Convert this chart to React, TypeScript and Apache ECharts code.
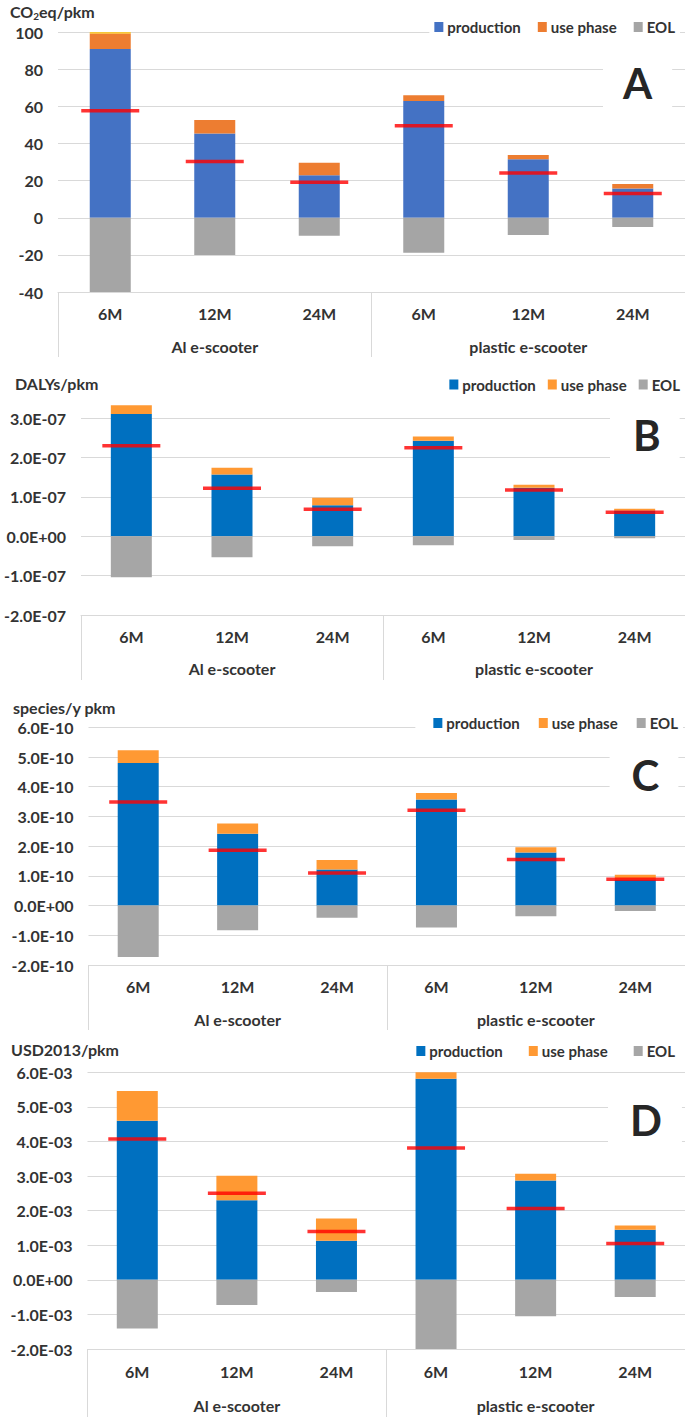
import React, { useEffect, useRef } from 'react';
import * as echarts from 'echarts';

// ---------- data ----------
const categories = ['6M', '12M', '24M', '6M', '12M', '24M'];
const groups = ['Al e-scooter', 'plastic e-scooter'];
const legendNames = ['production', 'use phase', 'EOL'];

// Panel A: kg CO2eq/pkm (g)
const prodA = [91, 45.5, 23, 62.9, 31.5, 15.8];
const useA = [8.4, 7.2, 6.7, 3.1, 2.3, 2.4];
const otherA = [0.6, null, null, null, null, null];
const eolA = [-40, -20.1, -9.7, -18.9, -9.3, -4.9];
const netA = [57.7, 30.4, 19.1, 49.6, 24.1, 13.1];

// Panel B: DALYs/pkm
const prodB = [3.11e-7, 1.57e-7, 0.79e-7, 2.43e-7, 1.235e-7, 0.65e-7];
const useB = [0.22e-7, 0.17e-7, 0.19e-7, 0.11e-7, 0.075e-7, 0.05e-7];
const eolB = [-1.04e-7, -0.53e-7, -0.25e-7, -0.23e-7, -0.094e-7, -0.05e-7];
const netB = [2.3e-7, 1.22e-7, 0.69e-7, 2.25e-7, 1.18e-7, 0.61e-7];

// Panel C: species/y pkm
const prodC = [4.8e-10, 2.42e-10, 1.21e-10, 3.57e-10, 1.79e-10, 0.88e-10];
const useC = [0.43e-10, 0.34e-10, 0.32e-10, 0.22e-10, 0.17e-10, 0.16e-10];
const eolC = [-1.73e-10, -0.83e-10, -0.41e-10, -0.74e-10, -0.36e-10, -0.18e-10];
const netC = [3.49e-10, 1.86e-10, 1.1e-10, 3.21e-10, 1.55e-10, 0.89e-10];

// Panel D: USD2013/pkm
const prodD = [4.6e-3, 2.3e-3, 1.13e-3, 5.81e-3, 2.87e-3, 1.45e-3];
const useD = [0.86e-3, 0.71e-3, 0.64e-3, 0.19e-3, 0.2e-3, 0.12e-3];
const eolD = [-1.41e-3, -0.73e-3, -0.35e-3, -2.0e-3, -1.05e-3, -0.5e-3];
const netD = [4.07e-3, 2.5e-3, 1.4e-3, 3.81e-3, 2.06e-3, 1.05e-3];

// ---------- helpers ----------
const fmtE = (v: number) => {
  const [m, e] = v.toExponential(1).split('e');
  const n = parseInt(e, 10);
  return `${m}E${n < 0 ? '-' : '+'}${String(Math.abs(n)).padStart(2, '0')}`;
};

const FONT = 'Lato';
const TXT = '#333333';
const GRIDC = '#d9d9d9';

const panels: any[] = [
  {
    key: 'A',
    prod: prodA, use: useA, eol: eolA, net: netA, other: otherA,
    min: -40, max: 100, interval: 20, fmt: (v: number) => String(v),
    colors: ['#4472C4', '#ED7D31', '#A5A5A5'],
    grid: { left: 58, top: 32.3, width: 627.5, height: 259.7 },
    unit: { text: '{a|CO}{b|2}{a|eq/pkm}', left: 10, top: 1 },
    legend: { top: 15.5, right: 5, itemGap: 17, padding: [4, 5, 4, 5] },
    letter: { left: 603, top: 56, padding: [6, 20, 6, 20] },
    labMargin: 13, grpMargin: 46, tickLen: 65,
  },
  {
    key: 'B',
    prod: prodB, use: useB, eol: eolB, net: netB,
    min: -2e-7, max: 3e-7, interval: 1e-7, fmt: fmtE,
    colors: ['#0070C0', '#FF9933', '#A6A6A6'],
    grid: { left: 81, top: 418.3, width: 609, height: 196.7 },
    unit: { text: '{a|DALYs/pkm}', left: 15, top: 373 },
    legend: { top: 373, right: 0, itemGap: 12, padding: [4, 5, 4, 5] },
    letter: { left: 610, top: 410, padding: [4, 19, 4, 23] },
    labMargin: 13, grpMargin: 45, tickLen: 65,
  },
  {
    key: 'C',
    prod: prodC, use: useC, eol: eolC, net: netC,
    min: -2e-10, max: 6e-10, interval: 1e-10, fmt: fmtE,
    colors: ['#0070C0', '#FF9933', '#A6A6A6'],
    grid: { left: 88.5, top: 727.3, width: 602, height: 237.7 },
    unit: { text: '{a|species/y pkm}', left: 13, top: 697 },
    legend: { top: 711.5, right: 2, itemGap: 19, padding: [4, 5, 4, 18] },
    letter: { left: 609.6, top: 750, padding: [4, 19, 4, 22] },
    labMargin: 13, grpMargin: 46, tickLen: 65,
  },
  {
    key: 'D',
    prod: prodD, use: useD, eol: eolD, net: netD,
    min: -2e-3, max: 6e-3, interval: 1e-3, fmt: fmtE,
    colors: ['#0070C0', '#FF9933', '#A6A6A6'],
    grid: { left: 87.5, top: 1072.3, width: 606, height: 276.7 },
    unit: { text: '{a|USD2013/pkm}', left: 11, top: 1039 },
    legend: { top: 1039.5, right: 5, itemGap: 26, padding: [4, 5, 4, 5] },
    letter: { left: 608, top: 1095, padding: [4, 20, 6, 22] },
    labMargin: 14, grpMargin: 48, tickLen: 68,
  },
];

function buildOption() {
  const grid: any[] = [];
  const xAxis: any[] = [];
  const yAxis: any[] = [];
  const series: any[] = [];
  const legend: any[] = [];
  const title: any[] = [];

  panels.forEach((p, i) => {
    grid.push({ ...p.grid, containLabel: false });
    xAxis.push({
      type: 'category',
      gridIndex: i,
      data: categories,
      position: 'bottom',
      axisLine: { onZero: false, lineStyle: { color: GRIDC, width: 1 } },
      axisTick: { show: false },
      axisLabel: { margin: p.labMargin, fontSize: 16, fontWeight: 'bold', color: TXT, fontFamily: FONT, interval: 0 },
    });
    xAxis.push({
      type: 'category',
      gridIndex: i,
      data: groups,
      position: 'bottom',
      axisLine: { show: false, onZero: false },
      axisTick: { show: true, interval: 0, length: p.tickLen, lineStyle: { color: GRIDC, width: 1 } },
      axisLabel: { margin: p.grpMargin, fontSize: 16, fontWeight: 'bold', color: TXT, fontFamily: FONT, interval: 0 },
    });
    yAxis.push({
      type: 'value',
      gridIndex: i,
      min: p.min,
      max: p.max,
      interval: p.interval,
      axisLine: { show: false },
      axisTick: { show: false },
      splitLine: { lineStyle: { color: GRIDC, width: 1 } },
      axisLabel: { formatter: p.fmt, margin: 15, fontSize: 16, fontWeight: 'bold', color: TXT, fontFamily: FONT },
    });
    const xi = i * 2;
    const names = legendNames.map((n) => `${p.key}:${n}`);
    const mk = (name: string, data: any[], color: string) => ({
      name,
      type: 'bar',
      xAxisIndex: xi,
      yAxisIndex: i,
      stack: `s${p.key}`,
      data,
      barWidth: 41,
      clip: false,
      itemStyle: { color },
      z: 2,
    });
    series.push(mk(names[0], p.prod, p.colors[0]));
    series.push(mk(names[1], p.use, p.colors[1]));
    if (p.other) series.push(mk(`${p.key}:other`, p.other, '#FFC000'));
    series.push(mk(names[2], p.eol, p.colors[2]));
    series.push({
      name: `${p.key}:net`,
      type: 'scatter',
      xAxisIndex: xi,
      yAxisIndex: i,
      data: p.net,
      symbol: 'rect',
      symbolSize: [58, 3.5],
      itemStyle: { color: '#FF0000' },
      z: 5,
    });
    legend.push({
      data: names.map((n, k) => ({ name: n, itemStyle: { color: p.colors[k] } })),
      top: p.legend.top,
      right: p.legend.right,
      itemGap: p.legend.itemGap,
      padding: p.legend.padding,
      backgroundColor: '#ffffff',
      itemWidth: 9,
      itemHeight: 10,
      icon: 'rect',
      selectedMode: false,
      formatter: (n: string) => n.split(':')[1],
      textStyle: { fontSize: 15, fontWeight: 'bold', color: TXT, fontFamily: FONT, padding: [0, 0, 0, -1] },
    });
    title.push({
      text: p.unit.text,
      left: p.unit.left,
      top: p.unit.top,
      padding: 0,
      textStyle: {
        rich: {
          a: { fontSize: 16, fontWeight: 'bold', color: TXT, fontFamily: FONT, lineHeight: 20 },
          b: { fontSize: 10, fontWeight: 'bold', color: TXT, fontFamily: FONT, lineHeight: 20, verticalAlign: 'bottom', padding: [8, 0, 0, 0] },
        },
      },
    });
    title.push({
      text: p.key,
      left: p.letter.left,
      top: p.letter.top,
      padding: p.letter.padding,
      backgroundColor: '#ffffff',
      z: 4,
      textStyle: { fontSize: 42, fontWeight: 'bold', color: '#262626', fontFamily: FONT, lineHeight: 42 },
    });
  });

  return {
    animation: false,
    backgroundColor: '#ffffff',
    textStyle: { fontFamily: FONT },
    grid,
    xAxis,
    yAxis,
    series,
    legend,
    title,
  };
}

export default function App() {
  const ref = useRef<HTMLDivElement>(null);
  useEffect(() => {
    document.body.style.margin = '0';
    if (!ref.current) return;
    const chart = echarts.init(ref.current, null, { renderer: 'svg' });
    chart.setOption(buildOption() as any);
    return () => chart.dispose();
  }, []);
  return <div ref={ref} style={{ width: 685, height: 1422 }} />;
}
